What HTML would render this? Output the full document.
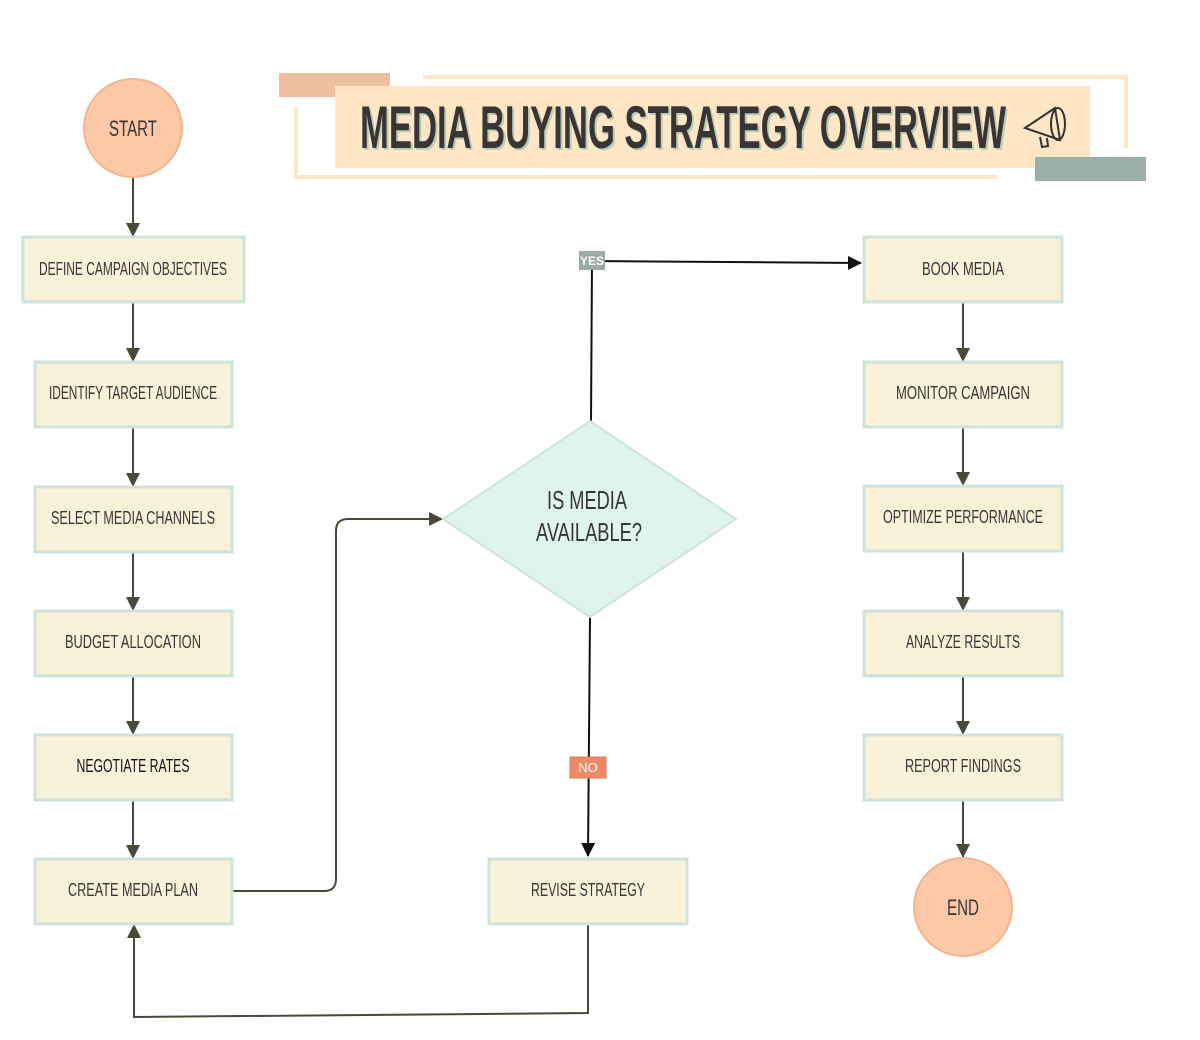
<!DOCTYPE html>
<html><head><meta charset="utf-8"><style>
html,body{margin:0;padding:0;background:#fff;}
svg{display:block}
text{font-family:"Liberation Sans",sans-serif;fill:#3a3535;}
</style></head><body>
<svg width="1200" height="1040" viewBox="0 0 1200 1040" xmlns="http://www.w3.org/2000/svg">
<defs>
<marker id="ad" markerWidth="14" markerHeight="14" refX="13" refY="7" orient="auto" markerUnits="userSpaceOnUse" viewBox="0 0 14 14"><path d="M0,0 L14,7 L0,14 z" fill="#4a4838"/></marker>
<marker id="ab" markerWidth="14" markerHeight="14" refX="13" refY="7" orient="auto" markerUnits="userSpaceOnUse" viewBox="0 0 14 14"><path d="M0,0 L14,7 L0,14 z" fill="#111"/></marker>
</defs>
<rect x="279" y="73" width="111" height="24" fill="#efbd9f"/>
<path d="M423,77 H1126 V148" fill="none" stroke="#ffe6c4" stroke-width="4"/>
<path d="M296,107 V177 H997" fill="none" stroke="#ffe6c4" stroke-width="4"/>
<rect x="335" y="86" width="755" height="82" fill="#ffe6c4"/>
<rect x="1035" y="157" width="111" height="24" fill="#9aafa9"/>
<text x="362" y="150" font-size="60" font-weight="bold" textLength="646" lengthAdjust="spacingAndGlyphs" style="fill:#b9cdb8">MEDIA BUYING STRATEGY OVERVIEW</text>
<text x="360" y="148" font-size="60" font-weight="bold" textLength="646" lengthAdjust="spacingAndGlyphs">MEDIA BUYING STRATEGY OVERVIEW</text>
<g fill="none" stroke="#333" stroke-width="2">
<path d="M1025,128 L1055,108 L1060,140 Z"/><ellipse cx="1058" cy="124" rx="7" ry="16"/><path d="M1040,137 L1042,147 L1048,146 L1047,138"/>
</g>
<g stroke="#4a4838" stroke-width="2" fill="none">
<line x1="133" y1="178" x2="133" y2="236" marker-end="url(#ad)"/>
<line x1="133" y1="302" x2="133" y2="361" marker-end="url(#ad)"/>
<line x1="133" y1="427" x2="133" y2="486" marker-end="url(#ad)"/>
<line x1="133" y1="552" x2="133" y2="610" marker-end="url(#ad)"/>
<line x1="133" y1="676" x2="133" y2="734" marker-end="url(#ad)"/>
<line x1="133" y1="800" x2="133" y2="858" marker-end="url(#ad)"/>
<line x1="963" y1="302" x2="963" y2="361" marker-end="url(#ad)"/>
<line x1="963" y1="427" x2="963" y2="485" marker-end="url(#ad)"/>
<line x1="963" y1="551" x2="963" y2="610" marker-end="url(#ad)"/>
<line x1="963" y1="676" x2="963" y2="734" marker-end="url(#ad)"/>
<line x1="963" y1="800" x2="963" y2="857" marker-end="url(#ad)"/>
<path d="M232,891 H324 Q336,891 336,879 V531 Q336,519 348,519 H442" marker-end="url(#ad)"/>
<path d="M588,925 V1013 L134,1017 V925" marker-end="url(#ad)"/>
</g>
<g stroke="#111" stroke-width="2" fill="none">
<path d="M591,421 L592,261 L861,263" marker-end="url(#ab)"/>
<path d="M590,617 L588,856" marker-end="url(#ab)"/>
</g>
<circle cx="133" cy="128" r="49" fill="#fcc8a8" stroke="#f0b690" stroke-width="2"/>
<text x="133" y="136" font-size="22" text-anchor="middle" textLength="48" lengthAdjust="spacingAndGlyphs">START</text>
<circle cx="963" cy="907" r="49" fill="#fcc8a8" stroke="#f0b690" stroke-width="2"/>
<text x="963" y="915" font-size="22" text-anchor="middle" textLength="32" lengthAdjust="spacingAndGlyphs">END</text>
<g fill="#faf2d8" stroke="#cfe3dd" stroke-width="3">
<rect x="23" y="237" width="221" height="65"/>
<rect x="35" y="362" width="197" height="65"/>
<rect x="35" y="487" width="197" height="65"/>
<rect x="35" y="611" width="197" height="65"/>
<rect x="35" y="735" width="197" height="65"/>
<rect x="35" y="859" width="197" height="65"/>
<rect x="864" y="237" width="198" height="65"/>
<rect x="864" y="362" width="198" height="65"/>
<rect x="864" y="486" width="198" height="65"/>
<rect x="864" y="611" width="198" height="65"/>
<rect x="864" y="735" width="198" height="65"/>
<rect x="489" y="859" width="198" height="65"/>
</g>
<polygon points="590,421 736,519 590,617 443,519" fill="#dff3ef" stroke="#cfe3dd" stroke-width="2"/>
<g font-size="18" text-anchor="middle">
<text x="133" y="275" textLength="188" lengthAdjust="spacingAndGlyphs">DEFINE CAMPAIGN OBJECTIVES</text>
<text x="133" y="399" textLength="168" lengthAdjust="spacingAndGlyphs">IDENTIFY TARGET AUDIENCE</text>
<text x="133" y="524" textLength="164" lengthAdjust="spacingAndGlyphs">SELECT MEDIA CHANNELS</text>
<text x="133" y="648" textLength="136" lengthAdjust="spacingAndGlyphs">BUDGET ALLOCATION</text>
<text x="133" y="772" textLength="113" lengthAdjust="spacingAndGlyphs" style="fill:#111">NEGOTIATE RATES</text>
<text x="133" y="896" textLength="130" lengthAdjust="spacingAndGlyphs">CREATE MEDIA PLAN</text>
<text x="963" y="275" textLength="82" lengthAdjust="spacingAndGlyphs">BOOK MEDIA</text>
<text x="963" y="399" textLength="134" lengthAdjust="spacingAndGlyphs">MONITOR CAMPAIGN</text>
<text x="963" y="523" textLength="160" lengthAdjust="spacingAndGlyphs">OPTIMIZE PERFORMANCE</text>
<text x="963" y="648" textLength="114" lengthAdjust="spacingAndGlyphs">ANALYZE RESULTS</text>
<text x="963" y="772" textLength="116" lengthAdjust="spacingAndGlyphs">REPORT FINDINGS</text>
<text x="588" y="896" textLength="114" lengthAdjust="spacingAndGlyphs">REVISE STRATEGY</text>
</g>
<g font-size="26" text-anchor="middle">
<text x="587" y="509" textLength="80" lengthAdjust="spacingAndGlyphs">IS MEDIA</text>
<text x="589" y="541" textLength="106" lengthAdjust="spacingAndGlyphs">AVAILABLE?</text>
</g>
<rect x="579" y="251" width="26" height="19" fill="#9aaca5"/>
<text x="592" y="265" font-size="12" font-weight="bold" text-anchor="middle" style="fill:#fff">YES</text>
<rect x="570" y="757" width="36" height="21" fill="#ee8a68" stroke="#e07a58"/>
<text x="588" y="772" font-size="13" text-anchor="middle" style="fill:#fff">NO</text>
</svg>
</body></html>
